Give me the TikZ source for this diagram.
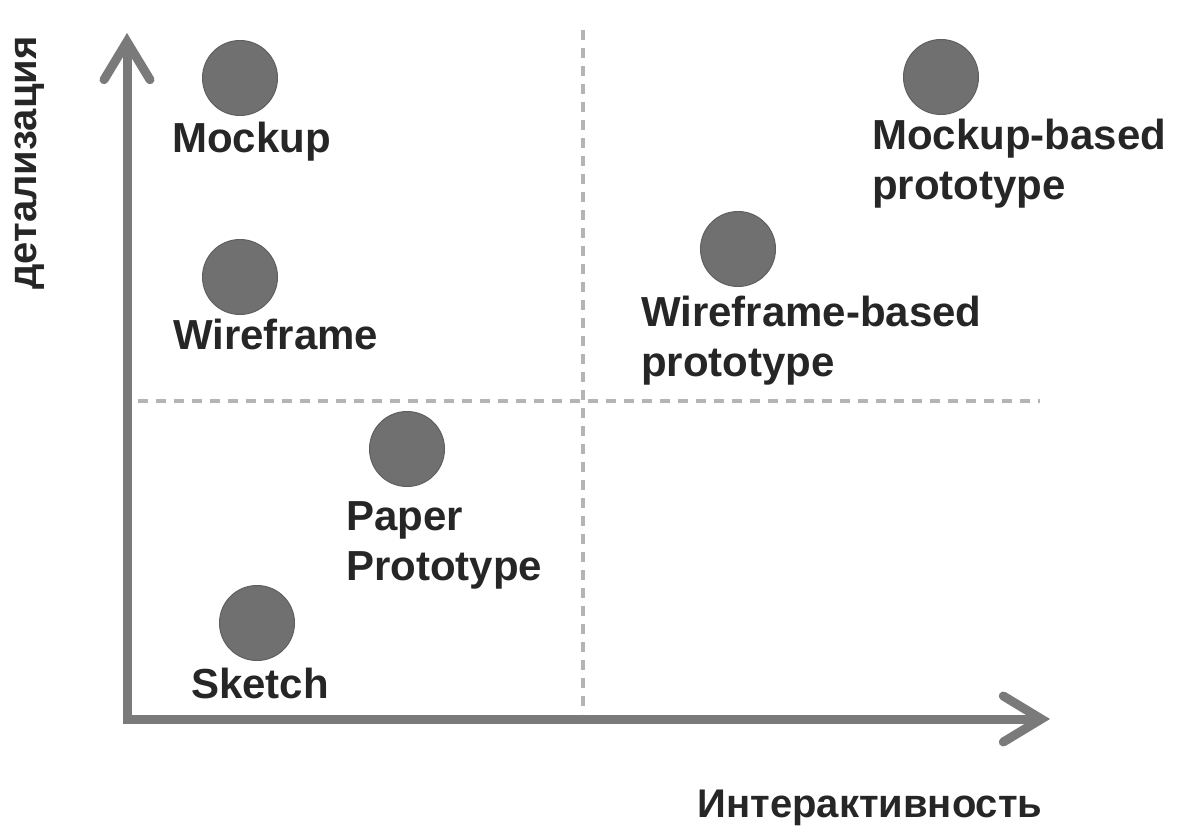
\documentclass[tikz,border=0pt]{standalone}
\usepackage{fontspec}
\setmainfont{Liberation Sans}
\usetikzlibrary{arrows.meta}
\definecolor{axisgray}{HTML}{7A7A7A}
\definecolor{dotgray}{HTML}{707070}
\definecolor{gridgray}{HTML}{B4B4B4}
\definecolor{ink}{HTML}{262626}
\tikzset{
  axis/.style={
    draw=axisgray,
    line width=9pt,
    line join=miter,
    {Straight Barb[length=38pt,width=46pt,line cap=round]}-{Straight Barb[length=38pt,width=46pt,line cap=round]},
  },
  quadline/.style={
    draw=gridgray,
    line width=3.5pt,
    dash pattern=on 10pt off 8pt,
  },
  bubble/.style={
    circle,
    fill=dotgray,
    draw=dotgray!85!black,
    line width=1pt,
    minimum size=75pt,
    inner sep=0,
  },
  lbl/.style={
    anchor=base west, % multi-line: base = last line
    inner sep=0,
    text=ink,
    align=left,
    font=\bfseries\fontsize{42}{50}\selectfont,
  },
  axlbl/.style={
    inner sep=0,
    text=ink,
    font=\bfseries\fontsize{40}{48}\selectfont,
  },
}

\begin{document}
\begin{tikzpicture}[x=1pt,y=-1pt]
  \useasboundingbox (0,0) rectangle (1178,826);

  % quadrant lines
  \coordinate (hl) at (138,401);
  \coordinate (hr) at (1040,401);
  \coordinate (vt) at (583,30);
  \coordinate (vb) at (583,714);
  \draw[quadline] (hl) -- (hr);
  \draw[quadline] (vt) -- (vb);

  % axes
  \coordinate (o) at (127,719);
  \coordinate (ytip) at (127,33);
  \coordinate (xtip) at (1050,719);
  \draw[axis] (ytip) -- (o) -- (xtip);

  \node[axlbl,rotate=90] (ylab) at (30,163) {детализация};
  \node[axlbl,anchor=base] (xlab) at (870,817) {Интерактивность};

  % prototypes
  \node[bubble] (mock) at (240,78) {};
  \node[lbl] (mocktxt) at (172,153) {Mockup};

  \node[bubble] (wire) at (240,277) {};
  \node[lbl] (wiretxt) at (173,349) {Wireframe};

  \node[bubble] (paper) at (407,449) {};
  \node[lbl] (papertxt) at (346,580) {Paper\\Prototype};

  \node[bubble] (sketch) at (257,623) {};
  \node[lbl] (sketchtxt) at (191,698) {Sketch};

  \node[bubble] (wirep) at (738,249) {};
  \node[lbl] (wireptxt) at (641,376) {Wireframe-based\\prototype};

  \node[bubble] (mockp) at (941,77) {};
  \node[lbl] (mockptxt) at (872,200) {Mockup-based\\prototype};
\end{tikzpicture}
\end{document}
